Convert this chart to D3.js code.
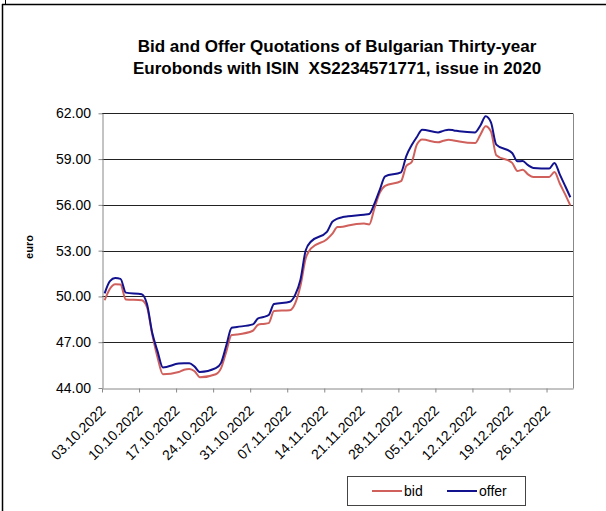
<!DOCTYPE html>
<html><head><meta charset="utf-8">
<script src="https://cdn.jsdelivr.net/npm/d3@7"></script>
<style>body{margin:0;background:#fff}svg{display:block}text{font-family:"Liberation Sans",Arial,sans-serif}</style>
</head><body>
<script>
const dates = ["03.10.2022","04.10.2022","05.10.2022","06.10.2022","07.10.2022","10.10.2022","11.10.2022","12.10.2022","13.10.2022","14.10.2022","17.10.2022","18.10.2022","19.10.2022","20.10.2022","21.10.2022","24.10.2022","25.10.2022","26.10.2022","27.10.2022","28.10.2022","31.10.2022",
"01.11.2022","02.11.2022","03.11.2022","04.11.2022","07.11.2022","08.11.2022","09.11.2022","10.11.2022","11.11.2022","14.11.2022","15.11.2022","16.11.2022","17.11.2022","18.11.2022","21.11.2022","22.11.2022","23.11.2022","24.11.2022","25.11.2022","28.11.2022","29.11.2022","30.11.2022",
"01.12.2022","02.12.2022","05.12.2022","06.12.2022","07.12.2022","08.12.2022","09.12.2022","12.12.2022","13.12.2022","14.12.2022","15.12.2022","16.12.2022","19.12.2022","20.12.2022","21.12.2022","22.12.2022","23.12.2022","26.12.2022","27.12.2022","28.12.2022","29.12.2022","30.12.2022"];
const bid = [49.75,50.5,50.8,50.78,49.8,49.75,49.3,47.5,46.0,44.9,45.05,45.2,45.25,45.1,44.7,44.9,45.3,46.4,47.47,47.5,47.75,
48.15,48.2,48.25,49.05,49.1,49.55,50.7,52.5,53.15,53.75,54.1,54.55,54.56,54.65,54.78,54.72,55.8,56.8,57.25,57.55,58.55,58.8,
59.95,60.28,60.1,60.2,60.27,60.22,60.15,60.05,60.6,61.15,60.8,59.25,58.75,58.22,58.3,58.0,57.83,57.83,58.15,57.4,56.7,55.95];
const offer = [50.2,51.0,51.2,51.15,50.25,50.15,49.5,47.6,46.4,45.35,45.6,45.62,45.62,45.4,45.05,45.3,45.65,46.8,47.95,48.0,48.17,
48.56,48.65,48.78,49.5,49.65,50.1,51.1,53.03,53.6,54.23,54.88,55.1,55.2,55.25,55.35,55.4,56.1,57.0,57.87,58.13,59.2,59.9,
60.45,60.93,60.75,60.85,60.93,60.88,60.82,60.75,61.2,61.8,61.4,59.95,59.4,58.85,58.87,58.6,58.42,58.38,58.75,58.0,57.25,56.5];
const xTickLabels = ["03.10.2022","10.10.2022","17.10.2022","24.10.2022","31.10.2022","07.11.2022","14.11.2022","21.11.2022","28.11.2022","05.12.2022","12.12.2022","19.12.2022","26.12.2022"];
const yTicks = [44,47,50,53,56,59,62];
const seriesNames = ["bid","offer"];
const seriesColors = ["#d0605c","#12128f"];
const titleLines = ["Bid and Offer Quotations of Bulgarian Thirty-year","Eurobonds with ISIN\u00a0\u00a0XS2234571771, issue in 2020"];

const W=606,H=511;
const parse = d3.timeParse("%d.%m.%Y");
const fmt = d3.timeFormat("%d.%m.%Y");
const svg = d3.select("body").append("svg").attr("width",W).attr("height",H);

// outer frame (cropped)
svg.append("line").attr("x1",2).attr("x2",W).attr("y1",4.5).attr("y2",4.5).attr("stroke","#000").attr("stroke-width",1.5);
svg.append("line").attr("x1",2.5).attr("x2",2.5).attr("y1",4).attr("y2",H).attr("stroke","#000").attr("stroke-width",1.5);
svg.append("line").attr("x1",5.5).attr("x2",5.5).attr("y1",0).attr("y2",4).attr("stroke","#000").attr("stroke-width",1);

const x = d3.scaleTime().domain([parse("03.10.2022"), parse("31.12.2022")]).range([102,573]);
const y = d3.scaleLinear().domain([44,62]).range([388,113.3]);

// gridlines
svg.append("g").selectAll("line").data(yTicks.filter(v=>v>44)).join("line")
  .attr("x1",102).attr("x2",573).attr("y1",d=>Math.round(y(d))+0.5).attr("y2",d=>Math.round(y(d))+0.5)
  .attr("stroke","#222").attr("stroke-width",1);
// right plot border
svg.append("line").attr("x1",573.5).attr("x2",573.5).attr("y1",Math.round(y(62))+0.5).attr("y2",388.5).attr("stroke","#888");

// y axis
const yAxis = svg.append("g").attr("transform","translate(102.5,0)")
  .call(d3.axisLeft(y).tickValues(yTicks).tickFormat(d3.format(".2f")).tickSize(4).tickPadding(7.5).tickSizeOuter(0));
yAxis.select(".domain").attr("stroke","#888");
yAxis.selectAll(".tick line").attr("stroke","#888");
yAxis.selectAll("text").attr("font-size",14).attr("fill","#000").style("font-family","'Liberation Sans',Arial,sans-serif");

// x axis
const xAxis = svg.append("g").attr("transform","translate(0,388.5)")
  .call(d3.axisBottom(x).tickValues(xTickLabels.map(parse)).tickFormat(fmt).tickSize(4).tickSizeOuter(0));
xAxis.select(".domain").attr("stroke","#888");
xAxis.selectAll(".tick line").attr("stroke","#888");
xAxis.selectAll("text").attr("font-size",14).attr("fill","#000")
  .style("font-family","'Liberation Sans',Arial,sans-serif")
  .attr("text-anchor","end").attr("dy",0).attr("y",0)
  .attr("transform","translate(4,23) rotate(-45)");

// lines
const pts = dates.map(parse).map(d=>new Date(d.getTime()+12*3600*1000));
const line = d3.line().x((d,i)=>x(pts[i])).y(d=>y(d)).curve(d3.curveMonotoneX);
[bid,offer].forEach((s,k)=>{
  svg.append("path").datum(s).attr("d",line).attr("fill","none")
    .attr("stroke",seriesColors[k]).attr("stroke-width",2).attr("stroke-linejoin","round");
});

// title
svg.append("text").attr("x",337).attr("y",0).attr("text-anchor","middle")
  .attr("font-weight","bold").attr("font-size",17)
  .selectAll("tspan").data(titleLines).join("tspan").attr("x",337).attr("y",(d,i)=>52+i*22).text(d=>d);

// y label
svg.append("text").attr("transform","translate(33,247) rotate(-90)").attr("text-anchor","middle")
  .attr("font-weight","bold").attr("font-size",11).text("euro");

// legend
const lg = svg.append("g");
lg.append("rect").attr("x",347.5).attr("y",476.5).attr("width",178).attr("height",29).attr("fill","#fff").attr("stroke","#444");
const lx=[372,447];
seriesNames.forEach((n,k)=>{
  lg.append("line").attr("x1",lx[k]).attr("x2",lx[k]+30).attr("y1",491).attr("y2",491).attr("stroke",seriesColors[k]).attr("stroke-width",2);
  lg.append("text").attr("x",lx[k]+32).attr("y",496).attr("font-size",14).text(n);
});
</script>
</body></html>
